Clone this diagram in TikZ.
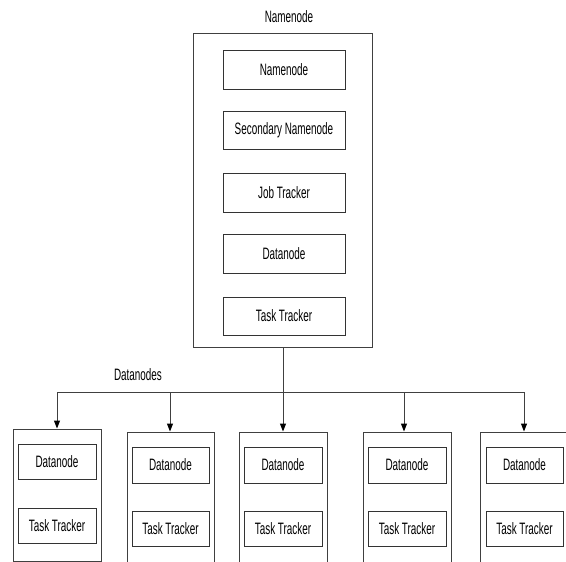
\documentclass[tikz,border=0pt]{standalone}
\usepackage{fontspec}
\setmainfont{Liberation Sans}[FakeStretch=0.6]
\usetikzlibrary{arrows.meta}
\tikzset{
  lbl/.style={font=\fontsize{16.5}{19}\selectfont, inner sep=0pt},
  outerbox/.style={draw=black!75, line width=1pt, inner sep=0pt},
  innerbox/.style={draw=black!80, line width=1pt, inner sep=0pt, font=\fontsize{16.5}{19}\selectfont},
  wire/.style={draw=black!75, line width=1pt},
  arr/.style={wire, -{Triangle[length=8pt,width=6pt,color=black,fill=black]}, shorten >=0.5pt}
}
\begin{document}
\begin{tikzpicture}[x=1pt,y=-1pt]
\useasboundingbox (0,0) rectangle (566,562);
\clip (0,0) rectangle (566,562);
\fill[white] (0,0) rectangle (566,562);
% title
\node[lbl] (title) at (289,17) {Namenode};
% namenode box
\node[outerbox, minimum width=179pt, minimum height=314pt] (nn) at (282.5,190) {};
\node[innerbox, minimum width=122pt, minimum height=39pt] (n1) at (284,69.5) {Namenode};
\node[innerbox, minimum width=122pt, minimum height=38pt] (n2) at (284,130) {Secondary Namenode};
\node[innerbox, minimum width=122pt, minimum height=39pt] (n3) at (284,192.5) {Job Tracker};
\node[innerbox, minimum width=122pt, minimum height=39pt] (n4) at (284,253.5) {Datanode};
\node[innerbox, minimum width=122pt, minimum height=38pt] (n5) at (284,316) {Task Tracker};
% bus
\coordinate (b1) at (57,392);
\coordinate (b2) at (170,392);
\coordinate (b3) at (283,392);
\coordinate (b4) at (404,392);
\coordinate (b5) at (524,392);
\draw[wire] (nn.south -| b3) -- (b3);
\draw[wire] (b1) -- (b5);
\node[lbl] (dlabel) at (138,375) {Datanodes};
% datanode boxes
\node[outerbox, minimum width=88pt, minimum height=132pt, anchor=north] (d1) at (57,429) {};
\node[outerbox, minimum width=87pt, minimum height=150pt, anchor=north] (d2) at (170.5,432) {};
\node[outerbox, minimum width=88pt, minimum height=150pt, anchor=north] (d3) at (283,432) {};
\node[outerbox, minimum width=88pt, minimum height=150pt, anchor=north] (d4) at (407,432) {};
\node[outerbox, minimum width=88pt, minimum height=150pt, anchor=north] (d5) at (524,432) {};
% inner boxes
\node[innerbox, minimum width=78pt, minimum height=35pt] (d1a) at (57,461.5) {Datanode};
\node[innerbox, minimum width=78pt, minimum height=35pt] (d1b) at (57,525.5) {Task Tracker};
\node[innerbox, minimum width=77pt, minimum height=36pt] (d2a) at (170.5,465) {Datanode};
\node[innerbox, minimum width=77pt, minimum height=35pt] (d2b) at (170.5,528.5) {Task Tracker};
\node[innerbox, minimum width=78pt, minimum height=36pt] (d3a) at (283,465) {Datanode};
\node[innerbox, minimum width=78pt, minimum height=35pt] (d3b) at (283,528.5) {Task Tracker};
\node[innerbox, minimum width=78pt, minimum height=36pt] (d4a) at (407,465) {Datanode};
\node[innerbox, minimum width=78pt, minimum height=35pt] (d4b) at (407,528.5) {Task Tracker};
\node[innerbox, minimum width=77pt, minimum height=36pt] (d5a) at (524.5,465) {Datanode};
\node[innerbox, minimum width=77pt, minimum height=35pt] (d5b) at (524.5,528.5) {Task Tracker};
% arrows
\draw[arr] (b1) -- (b1 |- d1.north);
\draw[arr] (b2) -- (b2 |- d2.north);
\draw[arr] (b3) -- (b3 |- d3.north);
\draw[arr] (b4) -- (b4 |- d4.north);
\draw[arr] (b5) -- (b5 |- d5.north);
\end{tikzpicture}
\end{document}
